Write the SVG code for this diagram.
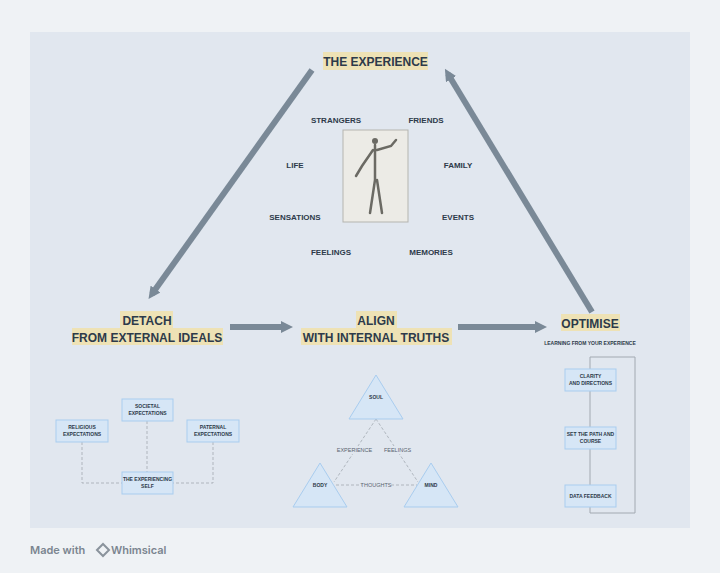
<svg xmlns="http://www.w3.org/2000/svg" width="720" height="573" viewBox="0 0 720 573">
<style>
.t{font-family:"Liberation Sans",Arial,sans-serif;font-weight:bold;fill:#2d3a4a;text-anchor:middle}
.h{font-size:12px}
.w{font-size:8px}
.s{font-size:5px}
.hl{fill:#eee2b5}
.box{fill:#d6e6f6;stroke:#a9cdef;stroke-width:1}
.arr{stroke:#7a8997;stroke-width:6;fill:none}
.dash{stroke:#a2a9b1;stroke-width:0.8;stroke-dasharray:3 2;fill:none}
.sol{stroke:#a2a9b1;stroke-width:1;fill:none}
.lab{font-family:"Liberation Sans",Arial,sans-serif;font-size:5.5px;fill:#5a6570;text-anchor:middle}
</style>
<defs>
<marker id="ah" viewBox="0 0 10 10" refX="5" refY="5" markerWidth="2" markerHeight="2" orient="auto"><path d="M0,0L10,5L0,10z" fill="#7a8997"/></marker>
</defs>
<rect width="720" height="573" fill="#eff2f5"/>
<rect x="30" y="32" width="660" height="496" fill="#e1e7ef"/>
<g id="connectors">
<line class="arr" x1="312" y1="70" x2="152" y2="294" marker-end="url(#ah)"/>
<line class="arr" x1="592" y1="312" x2="448" y2="74" marker-end="url(#ah)"/>
<line class="arr" x1="230" y1="327" x2="287" y2="327" marker-end="url(#ah)"/>
<line class="arr" x1="458" y1="327" x2="541" y2="327" marker-end="url(#ah)"/>
<path class="dash" d="M82,442V483H122M213,442V483H173M147,421V472"/>
<path class="dash" d="M376,419L334,482M376,419L418,482M336,485H417"/>
<path class="sol" d="M590,391V427M590,449V485M590,507V513H635V357H590V369"/>
</g>
<g id="experience">
<rect class="hl" x="323" y="52" width="105" height="18"/>
<text class="t h" x="375.5" y="65.5">THE EXPERIENCE</text>
<text class="t w" x="336" y="123">STRANGERS</text>
<text class="t w" x="426" y="123">FRIENDS</text>
<text class="t w" x="295" y="168">LIFE</text>
<text class="t w" x="458" y="168">FAMILY</text>
<text class="t w" x="295" y="220">SENSATIONS</text>
<text class="t w" x="458" y="220">EVENTS</text>
<text class="t w" x="331" y="255">FEELINGS</text>
<text class="t w" x="431" y="255">MEMORIES</text>
<rect x="343" y="130" width="65" height="92" fill="#ecebe6" stroke="#b5b5b0" stroke-width="1"/>
<g stroke="#6b6a64" stroke-width="2.5" fill="none" stroke-linecap="round">
<circle cx="375" cy="141" r="3" fill="#6b6a64" stroke="none"/>
<path d="M375,145V180M375,180L370,213M377,180L382,213M373,150L362,166L356,176M377,150L391,146L396,140"/>
</g>
</g>
<g id="detach">
<rect class="hl" x="120" y="311" width="53" height="17"/>
<rect class="hl" x="72" y="328" width="151" height="17"/>
<text class="t h" x="147" y="324.5">DETACH</text>
<text class="t h" x="147" y="341.5">FROM EXTERNAL IDEALS</text>
</g>
<g id="align">
<rect class="hl" x="356" y="311" width="41" height="17"/>
<rect class="hl" x="301" y="328" width="151" height="17"/>
<text class="t h" x="376" y="324.5">ALIGN</text>
<text class="t h" x="376" y="341.5">WITH INTERNAL TRUTHS</text>
</g>
<g id="optimise">
<rect class="hl" x="561" y="314" width="59" height="17"/>
<text class="t h" x="590" y="327.5">OPTIMISE</text>
<text class="t s" x="590" y="345">LEARNING FROM YOUR EXPERIENCE</text>
</g>
<g id="societal"><rect class="box" x="122" y="399" width="51" height="22"/><text class="t s" x="147.5" y="408">SOCIETAL</text><text class="t s" x="147.5" y="415">EXPECTATIONS</text></g>
<g id="religious"><rect class="box" x="56" y="420" width="52" height="22"/><text class="t s" x="82" y="429">RELIGIOUS</text><text class="t s" x="82" y="436">EXPECTATIONS</text></g>
<g id="paternal"><rect class="box" x="187" y="420" width="52" height="22"/><text class="t s" x="213" y="429">PATERNAL</text><text class="t s" x="213" y="436">EXPECTATIONS</text></g>
<g id="self"><rect class="box" x="122" y="472" width="51" height="22"/><text class="t s" x="147.5" y="481">THE EXPERIENCING</text><text class="t s" x="147.5" y="488">SELF</text></g>
<g id="soul"><path class="box" d="M376,375L403,419H349Z"/><text class="t s" x="376" y="399">SOUL</text></g>
<g id="body"><path class="box" d="M320,463L347,507H293Z"/><text class="t s" x="320" y="487">BODY</text></g>
<g id="mind"><path class="box" d="M431,463L458,507H404Z"/><text class="t s" x="431" y="487">MIND</text></g>
<g id="edge-labels">
<rect x="338" y="446" width="33" height="8" fill="#e1e7ef"/><text class="lab" x="354.5" y="452">EXPERIENCE</text>
<rect x="384" y="446" width="27" height="8" fill="#e1e7ef"/><text class="lab" x="397.5" y="452">FEELINGS</text>
<rect x="362" y="481" width="28" height="8" fill="#e1e7ef"/><text class="lab" x="376" y="487">THOUGHTS</text>
</g>
<g id="clarity"><rect class="box" x="565" y="369" width="51" height="22"/><text class="t s" x="590.5" y="378">CLARITY</text><text class="t s" x="590.5" y="385">AND DIRECTIONS</text></g>
<g id="path"><rect class="box" x="565" y="427" width="51" height="22"/><text class="t s" x="590.5" y="436">SET THE PATH AND</text><text class="t s" x="590.5" y="443">COURSE</text></g>
<g id="data"><rect class="box" x="565" y="485" width="51" height="22"/><text class="t s" x="590.5" y="498">DATA FEEDBACK</text></g>
<g id="watermark">
<text x="30" y="554" font-family="Inter,'Liberation Sans',sans-serif" font-size="11" font-weight="600" fill="#7b8590">Made with</text>
<path d="M97,550l6,-6l6,6l-6,6z" fill="none" stroke="#8a939c" stroke-width="2"/>
<text x="111" y="554" font-family="Inter,'Liberation Sans',sans-serif" font-size="11" font-weight="600" fill="#7b8590">Whimsical</text>
</g>
</svg>
